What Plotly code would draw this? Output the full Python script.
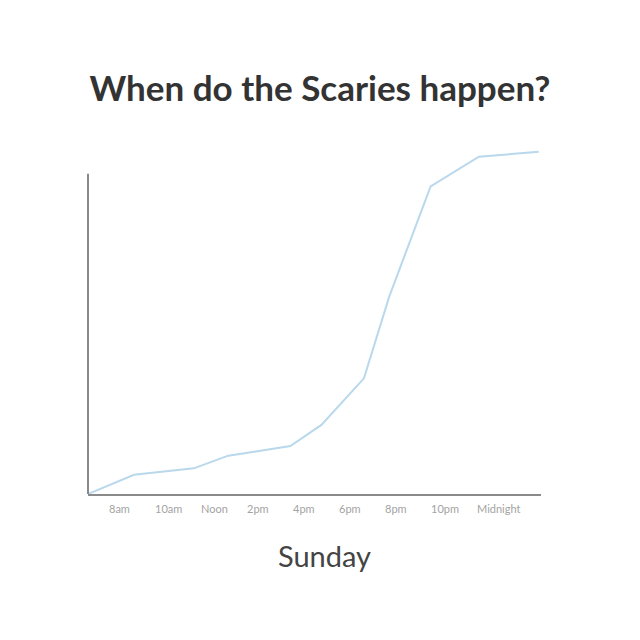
import plotly.graph_objects as go

# Sunday, hour of day (24+ = after midnight) vs cumulative share of scaries (%)
hours = [7.1, 9.1, 11.7, 13.2, 14.4, 15.9, 17.25, 19.1, 20.2, 22.0, 24.1, 26.7]
scaries = [0, 5.6, 7.5, 11.2, 12.4, 14.0, 20.2, 33.8, 57.7, 89.9, 98.6, 100]

tick_hours = [8, 10, 12, 14, 16, 18, 20, 22, 24]
tick_labels = ['8am', '10am', 'Noon', '2pm', '4pm', '6pm', '8pm', '10pm', 'Midnight']

axis_grey = '#8a8a8a'

fig = go.Figure()
fig.add_trace(go.Scatter(x=hours, y=scaries, mode='lines',
                         line=dict(color='#b9d8ec', width=2), hoverinfo='skip'))

# y axis line stops short of the top, so draw it by hand
fig.add_shape(type='line', xref='paper', yref='y', x0=0, x1=0, y0=0, y1=93.6,
              line=dict(color=axis_grey, width=2))

# labels sit left-aligned on their hour
for h, lab in zip(tick_hours, tick_labels):
    fig.add_annotation(x=h, y=0, xref='x', yref='y', text=lab, showarrow=False,
                       xanchor='left', yanchor='top', yshift=-6, xshift=-2,
                       font=dict(family='Lato', size=11, color='#a3a3a3'))

# axis title is centred a bit right of the plot area
fig.add_annotation(x=0.522, y=-0.175, xref='paper', yref='paper', text='Sunday',
                   showarrow=False, xanchor='center', yanchor='middle',
                   font=dict(family='Lato', size=29, color='#444444'))

# page body adds 8px, so margins are pulled in by that much
fig.update_layout(
    width=640, height=640,
    margin=dict(l=80, r=107, t=137, b=154),
    paper_bgcolor='white', plot_bgcolor='white',
    showlegend=False,
    title=dict(text='<b>When do the Scaries happen?</b>', x=(320 - 8) / 640, xanchor='center',
               y=1 - 81 / 640, yanchor='middle', yref='container',
               font=dict(family='Lato', size=35, color='#333333')),
)
fig.update_xaxes(range=[7.1, 26.8], showgrid=False, zeroline=False, showticklabels=False,
                 showline=True, linecolor=axis_grey, linewidth=2)
fig.update_yaxes(range=[0, 102], showgrid=False, zeroline=False, showticklabels=False,
                 showline=False)

fig.write_html("out.html")
